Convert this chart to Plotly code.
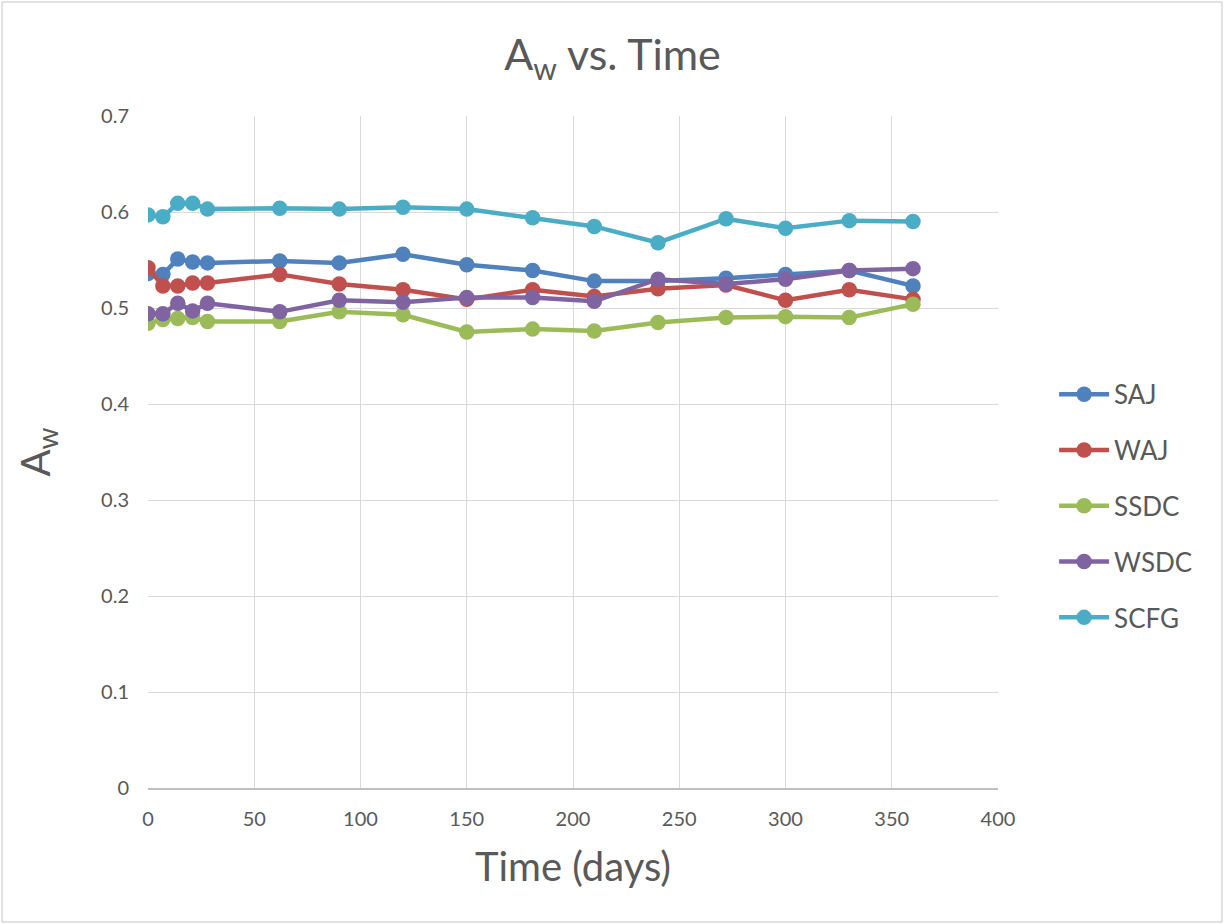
import plotly.graph_objects as go

# Sampling times (days)
days = [0, 7, 14, 21, 28, 62, 90, 120, 150, 181, 210, 240, 272, 300, 330, 360]

# Water activity per sample
saj = [0.536, 0.535, 0.551, 0.548, 0.547, 0.549, 0.547, 0.556, 0.545, 0.539,
       0.528, 0.528, 0.531, 0.535, 0.539, 0.523]
waj = [0.542, 0.523, 0.523, 0.526, 0.526, 0.535, 0.525, 0.519, 0.509, 0.519,
       0.512, 0.520, 0.524, 0.508, 0.519, 0.509]
ssdc = [0.484, 0.488, 0.489, 0.490, 0.486, 0.486, 0.496, 0.493, 0.475, 0.478,
        0.476, 0.485, 0.490, 0.491, 0.490, 0.504]
wsdc = [0.494, 0.494, 0.505, 0.497, 0.505, 0.496, 0.508, 0.506, 0.511, 0.511,
        0.507, 0.530, 0.525, 0.530, 0.539, 0.541]
scfg = [0.597, 0.595, 0.609, 0.609, 0.603, 0.604, 0.603, 0.605, 0.603, 0.594,
        0.585, 0.568, 0.593, 0.583, 0.591, 0.590]

series = [
    ("SAJ", saj, "#4F81BD"),
    ("WAJ", waj, "#C0504D"),
    ("SSDC", ssdc, "#9BBB59"),
    ("WSDC", wsdc, "#8064A2"),
    ("SCFG", scfg, "#4BACC6"),
]

FONT = "Lato, 'Open Sans', sans-serif"
TXT = "#595959"

fig = go.Figure()
for name, vals, color in series:
    fig.add_trace(go.Scatter(
        x=days, y=vals, name=name, legendgroup=name,
        mode="lines+markers",
        line=dict(color=color, width=4.5),
        marker=dict(color=color, size=15.5),
    ))

fig.update_layout(
    width=1225, height=924,
    paper_bgcolor="white", plot_bgcolor="white",
    margin=dict(l=148, r=227, t=116, b=136),
    font=dict(family=FONT, color=TXT),
    title=dict(text="A<sub>w</sub> vs. Time", x=0.5, xref="container", xanchor="center",
               y=0.94, yanchor="middle", font=dict(size=43, color=TXT)),
    xaxis=dict(range=[0, 400], dtick=50, tick0=0,
               showgrid=True, gridcolor="#D9D9D9", gridwidth=1,
               showline=True, linecolor="#BFBFBF", linewidth=1.5,
               zeroline=False, ticks="", ticklen=0, ticklabelstandoff=12,
               tickfont=dict(size=20, color=TXT),
               title=dict(text="Time (days)", font=dict(size=40, color=TXT), standoff=24)),
    yaxis=dict(range=[0, 0.7], dtick=0.1, tick0=0,
               showgrid=True, gridcolor="#D9D9D9", gridwidth=1,
               showline=False, zeroline=False, ticks="", ticklabelstandoff=18,
               tickfont=dict(size=20, color=TXT),
               title=dict(text="A<sub>w</sub>", font=dict(size=40, color=TXT), standoff=38)),
    legend=dict(x=1.066, xanchor="left", xref="paper", y=0.42, yanchor="middle",
                font=dict(size=26, color=TXT), traceorder="grouped",
                tracegroupgap=19, itemwidth=50, bgcolor="rgba(0,0,0,0)"),
)

# Outer chart border
fig.add_shape(type="rect", xref="x domain", yref="y domain",
              x0=-146 / 850, x1=(850 + 224) / 850, y0=-134 / 672, y1=(672 + 114) / 672,
              line=dict(color="#D9D9D9", width=1.5), layer="below")

fig.write_html("out.html")
